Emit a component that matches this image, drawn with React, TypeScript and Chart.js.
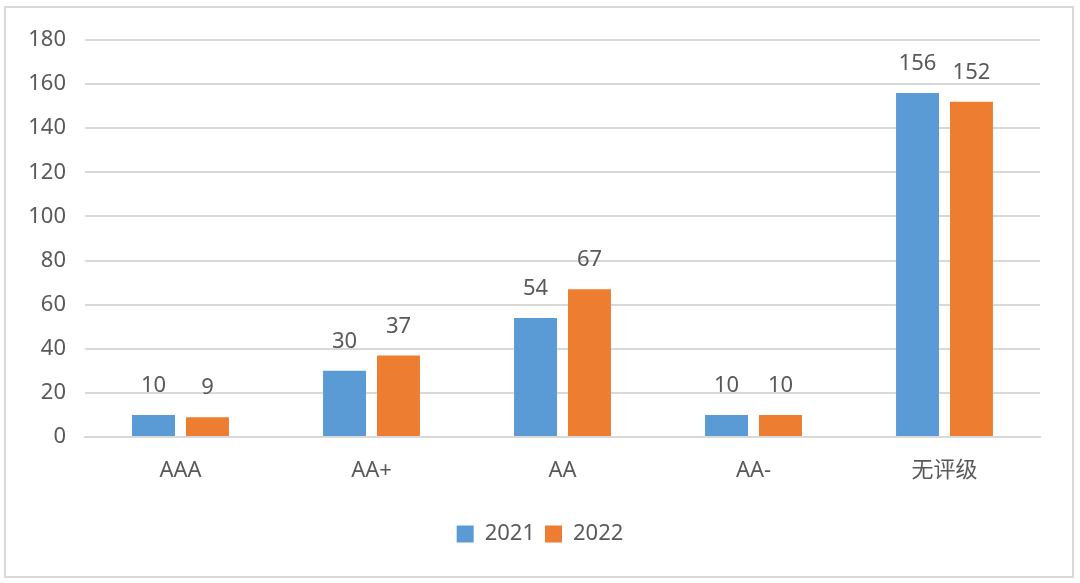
import React, { useEffect, useRef } from "react";
import { Chart, registerables } from "chart.js";

Chart.register(...registerables);

const categories = ["AAA", "AA+", "AA", "AA-", "无评级"];
const series2021 = [10, 30, 54, 10, 156];
const series2022 = [9, 37, 67, 10, 152];
const seriesNames = ["2021", "2022"];
const yTicksMax = 180;
const yTickStep = 20;

const FONT = '"Noto Sans", "Noto Sans CJK SC", sans-serif';
const TEXT = "#595959";

const framePlugin = {
  id: "frame",
  beforeDraw(chart: any) {
    const ctx = chart.ctx;
    ctx.save();
    ctx.fillStyle = "#ffffff";
    ctx.fillRect(0, 0, chart.width, chart.height);
    ctx.strokeStyle = "#D9D9D9";
    ctx.lineWidth = 2;
    ctx.strokeRect(5, 7, 1068, 570);
    ctx.restore();
  },
};

const legendShiftPlugin = {
  id: "legendShift",
  afterLayout(chart: any) {
    const lg = chart.legend;
    if (lg) {
      lg.left += 20;
      lg.right += 20;
    }
  },
};

const labelPlugin = {
  id: "valueLabels",
  afterDatasetsDraw(chart: any) {
    const ctx = chart.ctx;
    ctx.save();
    ctx.font = `22px ${FONT}`;
    ctx.fillStyle = TEXT;
    ctx.textAlign = "center";
    ctx.textBaseline = "bottom";
    chart.data.datasets.forEach((ds: any, i: number) => {
      const meta = chart.getDatasetMeta(i);
      meta.data.forEach((bar: any, j: number) => {
        ctx.fillText(String(ds.data[j]), bar.x, bar.y - 18);
      });
    });
    ctx.restore();
  },
};

export default function App() {
  const ref = useRef<HTMLCanvasElement>(null);
  useEffect(() => {
    document.body.style.margin = "0";
    const chart = new Chart(ref.current!, {
      type: "bar",
      data: {
        labels: categories,
        datasets: [
          {
            label: seriesNames[0],
            data: series2021,
            backgroundColor: "#5B9BD5",
            categoryPercentage: 0.565,
            barPercentage: 0.796,
          },
          {
            label: seriesNames[1],
            data: series2022,
            backgroundColor: "#ED7D31",
            categoryPercentage: 0.565,
            barPercentage: 0.796,
          },
        ],
      },
      options: {
        animation: false,
        responsive: false,
        layout: { padding: { top: 40, right: 40, left: 0, bottom: 28 } },
        plugins: {
          legend: {
            position: "bottom",
            labels: {
              boxWidth: 17,
              boxHeight: 17,
              padding: 10,
              color: TEXT,
              font: { family: FONT, size: 22 },
            },
          },
          tooltip: { enabled: false },
        },
        scales: {
          x: {
            grid: { display: false, drawTicks: false },
            border: { display: true, color: "#D9D9D9", width: 2 },
            ticks: { color: TEXT, font: { family: FONT, size: 22 }, padding: 21 },
            afterFit: (s: any) => {
              s.height = 76;
            },
          },
          y: {
            min: 0,
            max: yTicksMax,
            ticks: {
              stepSize: yTickStep,
              color: TEXT,
              font: { family: FONT, size: 22 },
              padding: 19,
            },
            grid: { color: "#D9D9D9", lineWidth: 2, drawTicks: false },
            border: { display: false },
            afterFit: (s: any) => {
              s.width = 85;
            },
          },
        },
      },
      plugins: [framePlugin, legendShiftPlugin, labelPlugin],
    } as any);
    return () => chart.destroy();
  }, []);
  return (
    <div style={{ width: 1080, height: 583 }}>
      <canvas ref={ref} width={1080} height={583} style={{ display: "block" }} />
    </div>
  );
}
